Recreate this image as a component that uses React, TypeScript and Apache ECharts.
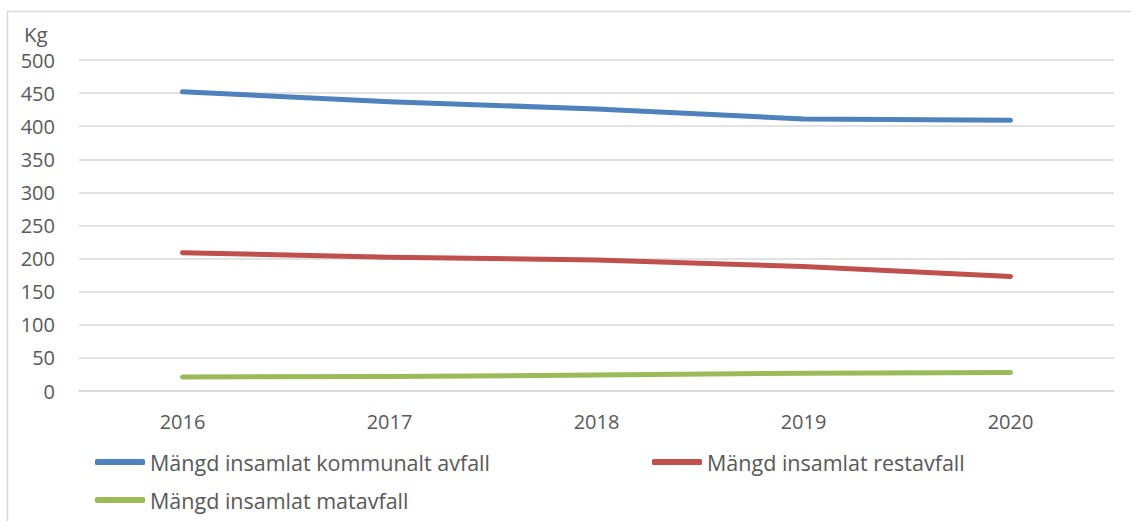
import React, { useEffect, useRef } from "react";
import * as echarts from "echarts";

const years = ["2016", "2017", "2018", "2019", "2020"];
const kommunalt = [452, 437, 426, 411, 409];
const restavfall = [209, 202, 198, 188, 173];
const matavfall = [21, 22, 24, 27, 28];
const yTicks = { min: 0, max: 500, interval: 50 };
const seriesNames = [
  "Mängd insamlat kommunalt avfall",
  "Mängd insamlat restavfall",
  "Mängd insamlat matavfall",
];
const colors = ["#4F81BD", "#C0504D", "#9BBB59"];

const FONT = "Open Sans";
const TEXT = "#595959";

export default function App() {
  const ref = useRef<HTMLDivElement>(null);
  useEffect(() => {
    if (!ref.current) return;
    const chart = echarts.init(ref.current, undefined, { renderer: "svg" });
    const data = [kommunalt, restavfall, matavfall];
    const legendBase = {
      icon: "roundRect",
      itemWidth: 50,
      itemHeight: 6,
      itemGap: 4,
      padding: 0,
      textStyle: { fontFamily: FONT, fontSize: 21.5, color: TEXT, lineHeight: 26 },
    };
    chart.setOption({
      animation: false,
      backgroundColor: "#fff",
      textStyle: { fontFamily: FONT },
      graphic: [
        {
          type: "rect",
          shape: { x: 7.5, y: 11.5, width: 1140, height: 530 },
          style: { fill: "none", stroke: "#D9D9D9", lineWidth: 1.5 },
          silent: true,
        },
        {
          type: "text",
          x: 24,
          y: 23,
          style: { text: "Kg", fontFamily: FONT, fontSize: 20.5, fill: TEXT },
        },
      ],
      grid: { left: 79, right: 17, top: 60, bottom: 130, containLabel: false },
      legend: [
        { ...legendBase, data: [seriesNames[0]], left: 95, top: 449 },
        { ...legendBase, data: [seriesNames[1]], left: 652, top: 449 },
        { ...legendBase, data: [seriesNames[2]], left: 95, top: 487 },
      ],
      xAxis: {
        type: "category",
        data: years,
        boundaryGap: true,
        axisLine: { show: true, lineStyle: { color: "#D9D9D9", width: 1.5 } },
        axisTick: { show: false },
        axisLabel: { color: TEXT, fontFamily: FONT, fontSize: 20, margin: 20 },
      },
      yAxis: {
        type: "value",
        min: yTicks.min,
        max: yTicks.max,
        interval: yTicks.interval,
        axisLine: { show: false },
        axisTick: { show: false },
        axisLabel: { color: TEXT, fontFamily: FONT, fontSize: 20, margin: 24 },
        splitLine: { lineStyle: { color: "#D9D9D9", width: 1.5 } },
      },
      series: seriesNames.map((name, i) => ({
        name,
        type: "line",
        data: data[i],
        symbol: "none",
        color: colors[i],
        lineStyle: { color: colors[i], width: 5, cap: "round", join: "round" },
        itemStyle: { color: colors[i] },
      })),
    });
    return () => chart.dispose();
  }, []);
  return (
    <div
      ref={ref}
      style={{ position: "absolute", left: 0, top: 0, width: 1131, height: 521 }}
    />
  );
}
